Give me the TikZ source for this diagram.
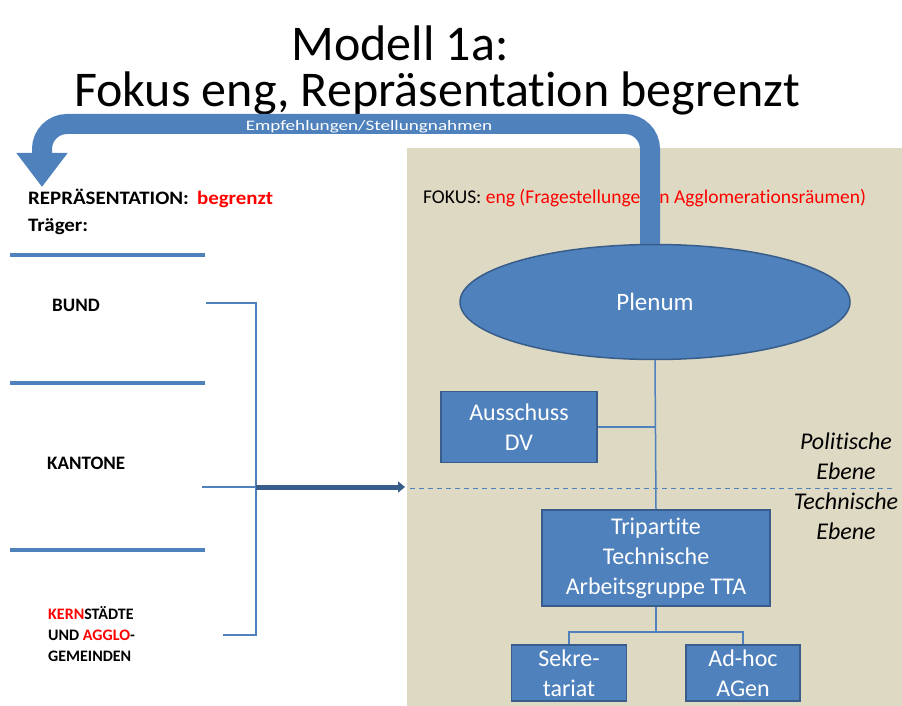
\documentclass[tikz,border=0pt]{standalone}
\usepackage{graphicx}
\usepackage{fontspec}
\setmainfont{Carlito}[Ligatures=NoCommon]
\usetikzlibrary{calc,shapes.geometric,arrows.meta}
\definecolor{boxblue}{HTML}{4F81BD}
\definecolor{edgeblue}{HTML}{385D8A}
\definecolor{panelbeige}{HTML}{DDD9C3}
\definecolor{hotred}{HTML}{FF0000}
\tikzset{
	orgbox/.style={draw=edgeblue, line width=1.5pt, fill=boxblue, text=white, align=center, inner sep=0pt, font=\fontsize{24}{30}\selectfont},
	orgline/.style={draw=boxblue, line width=1.5pt},
	ebene/.style={align=center, font=\fontsize{24}{30}\selectfont\itshape},
	traeger/.style={anchor=west, align=left, inner sep=0pt, font=\fontsize{19}{21}\selectfont\bfseries},
	headline/.style={align=center, inner sep=0pt, font=\fontsize{50}{46}\selectfont},
}

\begin{document}
\begin{tikzpicture}[x=1pt, y=-1pt]
		%%%%% START %%%%%
		\useasboundingbox (0, 0) rectangle (902, 706);
		
		\node[headline, anchor=base] (title) at (437, 107) {\hspace*{-74pt}Modell 1a:\\Fokus eng, Repräsentation begrenzt};
		
		\fill[panelbeige] (407, 148) rectangle (902, 706);
		\node[anchor=base west, inner sep=0pt, font=\fontsize{19.5}{22}\selectfont] (fokus) at (423, 203) {FOKUS: \textcolor{hotred}{eng (Fragestellungen in Agglomerationsräumen)}};
		
		% band back to the left
		\draw[boxblue, line width=20pt, rounded corners=25pt, -{Triangle[width=49pt, length=34pt]}] (650, 270) -- (650, 124) -- (42, 124) -- (42, 187);
		\node[anchor=base, text=white, inner sep=0pt, text height=9pt, text depth=0pt, font=\fontsize{14.5}{17}\selectfont] (empf) at (369, 131) {\scalebox{1.32}[1]{Empfehlungen/Stellungnahmen}};
		
		\node[ellipse, draw=edgeblue, line width=1.5pt, fill=boxblue, text=white, minimum width=390pt, minimum height=115pt, font=\fontsize{25}{30}\selectfont] (plenum) at (655, 302) {Plenum};
		\node[orgbox, minimum width=156pt, minimum height=71pt] (ausschuss) at (519, 427) {Ausschuss\\DV};
		\node[orgbox, minimum width=228pt, minimum height=96pt] (tta) at (656, 558) {Tripartite\\Technische\\Arbeitsgruppe TTA};
		\node[orgbox, minimum width=115pt, minimum height=56pt] (sekr) at (569, 673) {Sekre-\\tariat};
		\node[orgbox, minimum width=114pt, minimum height=56pt] (adhoc) at (743, 673) {Ad-hoc\\AGen};
		
		\draw[orgline] (plenum.south) -- (tta.north);
		\draw[orgline] (ausschuss.east) -- (ausschuss.east -| tta.north);
		\coordinate (fork) at ($(tta.south)+(0, 25)$);
		\draw[orgline] (tta.south) -- (fork);
		\draw[orgline] (fork) -| (sekr.north);
		\draw[orgline] (fork) -| (adhoc.north);
		
		\draw[boxblue, line width=1pt, dash pattern=on 5pt off 4pt] (410, 488) -- (895, 488);
		\node[ebene] (polit) at (846, 456) {Politische\\Ebene};
		\node[ebene] (techn) at (846, 516) {Technische\\Ebene};
		
		% left column
		\node[anchor=base west, inner sep=0pt, font=\fontsize{19}{22}\selectfont\bfseries] (repr) at (28, 204) {\scalebox{1.1}[1]{REPRÄSENTATION:\, \textcolor{hotred}{begrenzt}}};
		\node[anchor=base west, inner sep=0pt, font=\fontsize{19}{22}\selectfont\bfseries] (traeger) at (28, 231) {\scalebox{1.1}[1]{Träger:}};
		\draw[boxblue, line width=3.5pt] (10, 255) -- (205, 255);
		\draw[boxblue, line width=3.5pt] (10, 383) -- (205, 383);
		\draw[boxblue, line width=3.5pt] (10, 550) -- (205, 550);
		\node[traeger] (bund) at (52, 305) {BUND};
		\node[traeger] (kantone) at (47, 463) {KANTONE};
		\node[traeger, font=\fontsize{16}{21}\selectfont\bfseries] (kern) at (48, 634) {\textcolor{hotred}{KERN}STÄDTE\\UND \textcolor{hotred}{AGGLO}-\\GEMEINDEN};
		
		\coordinate (brTop) at (206, 303);
		\coordinate (brMid) at (202, 487);
		\coordinate (brBot) at (223, 635);
		\coordinate (brSpine) at (256, 487);
		\draw[orgline] (brTop) -| (brSpine) |- (brBot);
		\draw[orgline] (brMid) -- (brSpine);
		\draw[edgeblue, line width=5pt, -{Triangle[width=11pt, length=7pt]}] (brSpine) -- (405, 490 |- brSpine);
		%%%%% END %%%%%
	\end{tikzpicture}
\end{document}
